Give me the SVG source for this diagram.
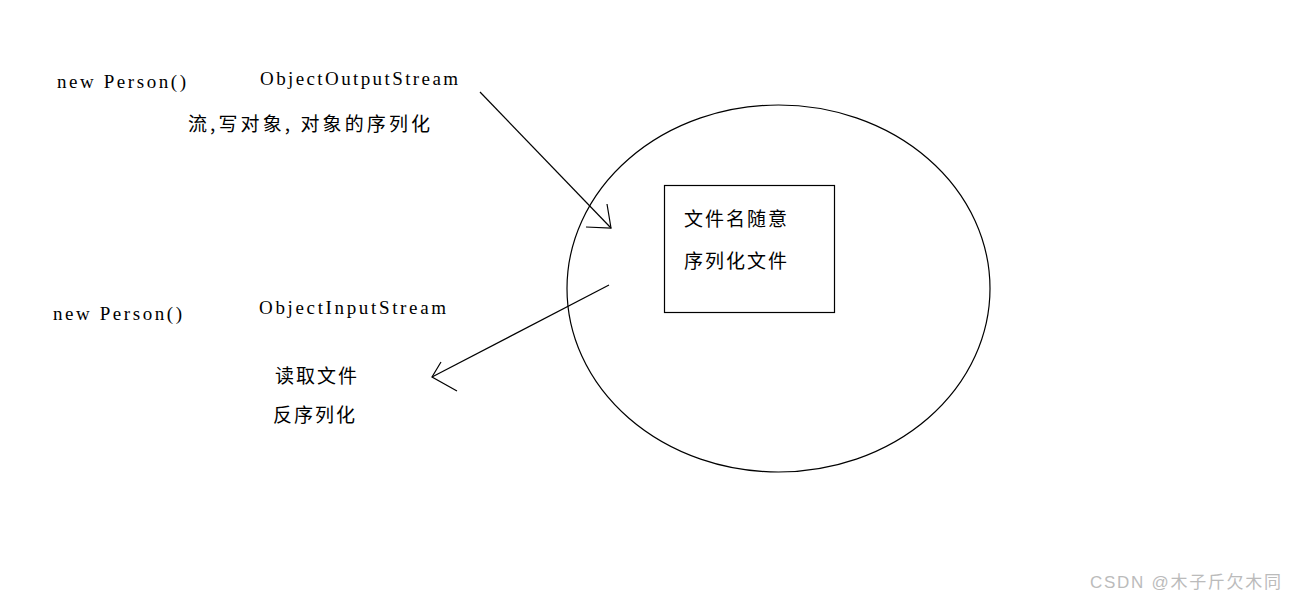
<svg xmlns="http://www.w3.org/2000/svg" width="1295" height="601" viewBox="0 0 1295 601">
<style>
.m{font-family:"Liberation Serif","DejaVu Serif",serif;font-size:19px;fill:#000}
.c{font-family:"Noto Sans CJK SC","Noto Sans CJK TC",sans-serif;font-size:19px;fill:#000}
.ln{stroke:#000;stroke-width:1.2;fill:none}
.wm{font-family:"Liberation Sans","Noto Sans CJK SC",sans-serif;font-size:17px;fill:#bbbbbb}
</style>
<rect width="1295" height="601" fill="#fff"/>
<g id="labels-top">
<text class="m" x="57" y="88" textLength="129">new Person()</text>
<text class="m" x="260" y="85" textLength="198">ObjectOutputStream</text>
<text class="c" x="188" y="131" textLength="242">流,写对象, 对象的序列化</text>
</g>
<g id="labels-bottom">
<text class="m" x="53" y="320" textLength="129">new Person()</text>
<text class="m" x="259" y="314" textLength="187">ObjectInputStream</text>
<text class="c" x="275" y="383" textLength="82">读取文件</text>
<text class="c" x="273" y="422" textLength="82">反序列化</text>
</g>
<g id="file-ellipse">
<ellipse class="ln" cx="778.5" cy="288.5" rx="211.5" ry="183.5"/>
</g>
<g id="file-box">
<rect class="ln" x="664.5" y="185.5" width="170" height="127"/>
<text class="c" x="684" y="226" textLength="103">文件名随意</text>
<text class="c" x="684" y="268" textLength="103">序列化文件</text>
</g>
<g id="connectors">
<path class="ln" d="M480 92 L611 228"/>
<path class="ln" d="M607 204 L611 228 L586 227"/>
<path class="ln" d="M609 285 L432 377"/>
<path class="ln" d="M441 362 L432 377 L457 391"/>
</g>
<text class="wm" x="1090" y="588" textLength="191">CSDN @木子斤欠木同</text>
</svg>
